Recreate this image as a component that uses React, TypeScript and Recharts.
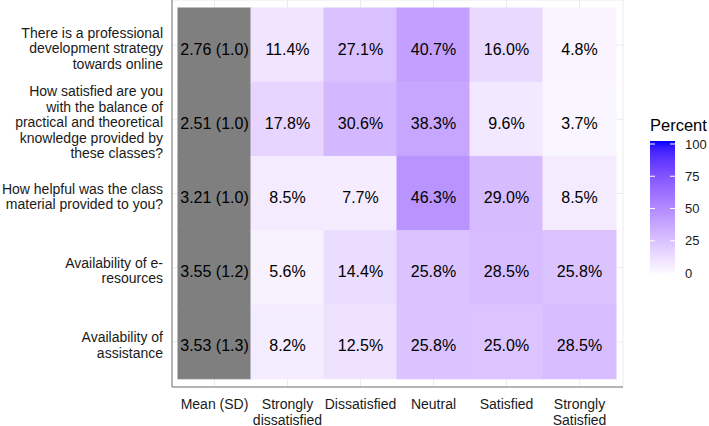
import { BarChart, Bar, XAxis, YAxis, CartesianGrid } from "recharts";

// --- data ---
const questions = [
  "There is a professional\ndevelopment strategy\ntowards online",
  "How satisfied are you\nwith the balance of\npractical and theoretical\nknowledge provided by\nthese classes?",
  "How helpful was the class\nmaterial provided to you?",
  "Availability of e-\nresources",
  "Availability of\nassistance",
];
const meanSd = ["2.76 (1.0)", "2.51 (1.0)", "3.21 (1.0)", "3.55 (1.2)", "3.53 (1.3)"];
const columnLabels = [
  "Mean (SD)",
  "Strongly\ndissatisfied",
  "Dissatisfied",
  "Neutral",
  "Satisfied",
  "Strongly\nSatisfied",
];
const stronglyDissatisfied = [11.4, 17.8, 8.5, 5.6, 8.2];
const dissatisfied = [27.1, 30.6, 7.7, 14.4, 12.5];
const neutral = [40.7, 38.3, 46.3, 25.8, 25.8];
const satisfied = [16.0, 9.6, 29.0, 28.5, 25.0];
const stronglySatisfied = [4.8, 3.7, 8.5, 25.8, 28.5];
const legendBreaks = [0, 25, 50, 75, 100];

const FONT = "'Liberation Sans', Arial, Helvetica, sans-serif";
const MEAN_FILL = "#7F7F7F";

// --- white -> blue gradient interpolated in CIELAB (like ggplot's scale_fill_gradient) ---
const toLin = (c: number) => (c <= 0.04045 ? c / 12.92 : Math.pow((c + 0.055) / 1.055, 2.4));
const toSrgb = (c: number) => {
  const v = c <= 0.0031308 ? 12.92 * c : 1.055 * Math.pow(c, 1 / 2.4) - 0.055;
  return Math.round(Math.min(1, Math.max(0, v)) * 255);
};
const Xn = 0.95047, Yn = 1, Zn = 1.08883;
const f = (t: number) => (t > 216 / 24389 ? Math.cbrt(t) : (24389 / 27 * t + 16) / 116);
const fInv = (t: number) => (t * t * t > 216 / 24389 ? t * t * t : (116 * t - 16) / (24389 / 27));

const hexToLab = (hex: string) => {
  const r = toLin(parseInt(hex.slice(1, 3), 16) / 255);
  const g = toLin(parseInt(hex.slice(3, 5), 16) / 255);
  const b = toLin(parseInt(hex.slice(5, 7), 16) / 255);
  const X = 0.4124 * r + 0.3576 * g + 0.1805 * b;
  const Y = 0.2126 * r + 0.7152 * g + 0.0722 * b;
  const Z = 0.0193 * r + 0.1192 * g + 0.9505 * b;
  const fx = f(X / Xn), fy = f(Y / Yn), fz = f(Z / Zn);
  return [116 * fy - 16, 500 * (fx - fy), 200 * (fy - fz)];
};
const labToRgb = ([L, a, bb]: number[]) => {
  const fy = (L + 16) / 116;
  const fx = fy + a / 500;
  const fz = fy - bb / 200;
  const X = Xn * fInv(fx), Y = Yn * fInv(fy), Z = Zn * fInv(fz);
  const r = 3.2406 * X - 1.5372 * Y - 0.4986 * Z;
  const g = -0.9689 * X + 1.8758 * Y + 0.0415 * Z;
  const b = 0.0557 * X - 0.204 * Y + 1.057 * Z;
  return `rgb(${toSrgb(r)},${toSrgb(g)},${toSrgb(b)})`;
};
const LOW = hexToLab("#FFFFFF");
const HIGH = hexToLab("#0000FF");
const percentFill = (p: number) => {
  const t = p / 100;
  return labToRgb(LOW.map((v, i) => v + (HIGH[i] - v) * t));
};

// build the rows the chart needs
const percentCols = [stronglyDissatisfied, dissatisfied, neutral, satisfied, stronglySatisfied];
const data = questions.map((q, i) => ({
  question: q,
  cells: [
    { label: meanSd[i], fill: MEAN_FILL },
    ...percentCols.map((col) => ({ label: `${col[i].toFixed(1)}%`, fill: percentFill(col[i]) })),
  ],
}));

const makeTile = (k: number) => (props: any) => {
  const { x, y, width, height, payload } = props;
  const cell = payload.cells[k];
  return (
    <g>
      {/* stroke in the same colour hides the hairline seams between tiles */}
      <rect x={x} y={y} width={width} height={height} fill={cell.fill} stroke={cell.fill} strokeWidth={1} />
      <text
        x={x + width / 2}
        y={y + height / 2 + 9.5}
        textAnchor="middle"
        fontFamily={FONT}
        fontSize={16}
        fill="#000"
      >
        {cell.label}
      </text>
    </g>
  );
};

const YTick = (props: any) => {
  const { x, y, payload } = props;
  const lines = String(payload.value).split("\n");
  const lh = 15.5;
  const first = y + 8 - ((lines.length - 1) * lh) / 2;
  return (
    <text x={x - 9} y={first} textAnchor="end" fontFamily={FONT} fontSize={14} fill="#1a1a1a">
      {lines.map((l, i) => (
        <tspan key={i} x={x - 9} y={first + i * lh}>
          {l}
        </tspan>
      ))}
    </text>
  );
};

const XTick = (props: any) => {
  const { x, y, payload } = props;
  const lines = columnLabels[Math.floor(payload.value)].split("\n");
  const lh = 16;
  return (
    <text x={x} y={y + 21.5} textAnchor="middle" fontFamily={FONT} fontSize={14} fill="#1a1a1a">
      {lines.map((l, i) => (
        <tspan key={i} x={x} y={y + 21.5 + i * lh}>
          {l}
        </tspan>
      ))}
    </text>
  );
};

const ColourLegend = () => {
  const barTop = 141;
  const barBottom = 276;
  const top100 = 144;
  const bottom0 = 273;
  const pos = (v: number) => bottom0 - ((bottom0 - top100) * v) / 100;
  const stops = Array.from({ length: 21 }, (_, i) => i * 5);
  return (
    <svg width={709} height={426} style={{ position: "absolute", left: 0, top: 0, pointerEvents: "none" }}>
      <defs>
        <linearGradient id="pctGrad" x1="0" y1="1" x2="0" y2="0">
          {stops.map((s) => (
            <stop key={s} offset={`${s}%`} stopColor={percentFill(s)} />
          ))}
        </linearGradient>
      </defs>
      <text x={650} y={131} fontFamily={FONT} fontSize={16.5} fill="#000">
        Percent
      </text>
      <rect x={650} y={barTop} width={25} height={barBottom - barTop} fill="url(#pctGrad)" />
      {legendBreaks.map((b) => (
        <g key={b}>
          <line x1={650} x2={655} y1={pos(b)} y2={pos(b)} stroke="#fff" strokeWidth={1} />
          <line x1={670} x2={675} y1={pos(b)} y2={pos(b)} stroke="#fff" strokeWidth={1} />
          <text x={685} y={pos(b) + 4.7} fontFamily={FONT} fontSize={13} fill="#1a1a1a">
            {b}
          </text>
        </g>
      ))}
    </svg>
  );
};

export default function App() {
  return (
    <div style={{ position: "absolute", left: 0, top: 0, width: 709, height: 426, background: "#fff" }}>
      <BarChart
        width={709}
        height={426}
        data={data}
        layout="vertical"
        margin={{ top: 0, right: 86, left: 0, bottom: 0 }}
        barCategoryGap={0}
        barGap={0}
      >
        <CartesianGrid stroke="#ebebeb" strokeWidth={1} />
        <XAxis
          type="number"
          domain={[0, 6]}
          ticks={[0.5, 1.5, 2.5, 3.5, 4.5, 5.5]}
          interval={0}
          padding={{ left: 6, right: 7 }}
          height={39}
          tickLine={false}
          tickSize={0}
          tickMargin={0}
          axisLine={{ stroke: "#777", strokeWidth: 1 }}
          tick={<XTick />}
        />
        <YAxis
          type="category"
          dataKey="question"
          width={172}
          interval={0}
          padding={{ top: 8, bottom: 8 }}
          tickLine={false}
          tickSize={0}
          tickMargin={0}
          axisLine={{ stroke: "#777", strokeWidth: 1 }}
          tick={<YTick />}
        />
        {columnLabels.map((c, k) => (
          <Bar
            key={c}
            dataKey={() => 1}
            stackId="tiles"
            isAnimationActive={false}
            shape={makeTile(k)}
          />
        ))}
      </BarChart>
      <ColourLegend />
    </div>
  );
}
